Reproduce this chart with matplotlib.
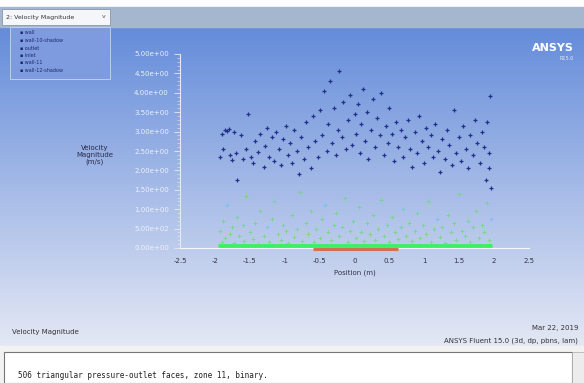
import numpy as np
import matplotlib.pyplot as plt
from matplotlib.patches import Rectangle

plt.rcParams['font.family'] = ['Liberation Sans Narrow', 'DejaVu Sans']

# blue points (upper cloud)
blue_x = [-1.92, -1.90, -1.88, -1.85, -1.82, -1.80, -1.78, -1.76, -1.72, -1.70, -1.68, -1.62,
          -1.60, -1.55, -1.52, -1.48, -1.45, -1.42, -1.38, -1.35, -1.30, -1.28, -1.25, -1.22,
          -1.18, -1.15, -1.12, -1.08, -1.05, -1.02, -0.98, -0.95, -0.92, -0.90, -0.86, -0.82,
          -0.80, -0.76, -0.72, -0.70, -0.66, -0.62, -0.60, -0.56, -0.52, -0.50, -0.46, -0.44,
          -0.40, -0.38, -0.35, -0.32, -0.30, -0.26, -0.24, -0.22, -0.18, -0.16, -0.12, -0.10,
          -0.06, -0.04, 0.00, 0.02, 0.05, 0.08, 0.10, 0.12, 0.15, 0.18, 0.20, 0.24, 0.26, 0.30,
          0.32, 0.36, 0.38, 0.42, 0.45, 0.48, 0.50, 0.54, 0.56, 0.60, 0.62, 0.66, 0.70, 0.72,
          0.76, 0.80, 0.82, 0.86, 0.90, 0.92, 0.96, 1.00, 1.02, 1.06, 1.10, 1.12, 1.16, 1.20,
          1.22, 1.26, 1.30, 1.32, 1.36, 1.40, 1.42, 1.46, 1.50, 1.52, 1.56, 1.60, 1.62, 1.66,
          1.70, 1.72, 1.76, 1.80, 1.82, 1.85, 1.88, 1.90, 1.92, 1.94, 1.95, 1.93]
blue_y = [2.35, 2.95, 2.55, 3.05, 3.02, 3.06, 2.40, 2.28, 3.00, 2.45, 1.75, 2.90,
          2.30, 2.55, 3.45, 2.35, 2.20, 2.75, 2.48, 2.95, 2.10, 2.62, 3.10, 2.35,
          2.85, 2.25, 3.00, 2.55, 2.15, 2.80, 3.15, 2.40, 2.70, 2.20, 3.05, 2.50,
          1.90, 2.85, 2.30, 3.25, 2.60, 2.05, 3.40, 2.75, 2.35, 3.55, 2.90, 4.05,
          2.50, 3.20, 4.30, 2.70, 3.60, 2.40, 3.05, 4.55, 2.85, 3.75, 2.55, 3.30,
          3.95, 2.65, 3.45, 2.95, 3.70, 2.45, 3.20, 4.10, 2.75, 3.50, 2.30, 3.05, 3.85, 2.60,
          3.35, 2.90, 4.00, 2.40, 3.15, 2.70, 3.60, 2.95, 2.25, 3.25, 2.60, 3.05, 2.35, 2.85,
          3.30, 2.55, 2.10, 3.00, 2.45, 3.40, 2.75, 2.20, 3.10, 2.60, 2.90, 2.35, 3.20, 2.50,
          1.95, 2.80, 2.30, 3.05, 2.65, 2.15, 3.55, 2.45, 2.85, 2.25, 3.15, 2.55, 2.05, 2.90,
          2.40, 3.30, 2.70, 2.20, 3.00, 2.60, 1.75, 3.25, 2.45, 3.92, 1.55, 2.05]

# green points (lower cloud)
green_x = [-1.92, -1.90, -1.88, -1.85, -1.82, -1.78, -1.75, -1.72, -1.68, -1.65, -1.60, -1.58,
           -1.55, -1.50, -1.46, -1.42, -1.38, -1.35, -1.30, -1.26, -1.22, -1.18, -1.15, -1.10,
           -1.06, -1.02, -0.98, -0.95, -0.90, -0.86, -0.82, -0.78, -0.75, -0.70, -0.66, -0.62,
           -0.58, -0.55, -0.50, -0.46, -0.42, -0.38, -0.34, -0.30, -0.26, -0.22, -0.18, -0.14,
           -0.10, -0.06, -0.02, 0.02, 0.06, 0.10, 0.14, 0.18, 0.22, 0.26, 0.30, 0.34, 0.38,
           0.42, 0.46, 0.50, 0.54, 0.58, 0.62, 0.66, 0.70, 0.74, 0.78, 0.82, 0.86, 0.90, 0.94,
           0.98, 1.02, 1.06, 1.10, 1.14, 1.18, 1.22, 1.26, 1.30, 1.34, 1.38, 1.42, 1.46, 1.50,
           1.54, 1.58, 1.62, 1.66, 1.70, 1.74, 1.78, 1.82, 1.86, 1.90, 1.93, 1.95]
green_y = [0.45, 0.15, 0.70, 0.25, 1.10, 0.35, 0.55, 0.12, 0.80, 0.30, 0.60, 0.18,
           1.35, 0.40, 0.22, 0.65, 0.10, 0.95, 0.30, 0.55, 0.15, 0.75, 1.20, 0.35,
           0.20, 0.60, 0.45, 0.12, 0.85, 0.28, 0.50, 1.45, 0.18, 0.65, 0.35, 0.95,
           0.15, 0.50, 0.25, 0.75, 1.10, 0.40, 0.20, 0.60, 0.90, 0.30, 0.55, 1.30,
           0.15, 0.45, 0.70, 0.25, 1.05, 0.40, 0.18, 0.65, 0.35, 0.85, 0.20, 0.50, 1.25,
           0.30, 0.60, 0.15, 0.80, 0.40, 0.22, 0.55, 1.00, 0.30, 0.65, 0.18, 0.45, 0.90, 0.25,
           0.60, 0.35, 1.20, 0.15, 0.50, 0.75, 0.28, 0.55, 0.12, 0.85, 0.40, 0.65, 0.20, 1.40,
           0.45, 0.30, 0.70, 0.15, 0.55, 0.95, 0.25, 0.60, 0.40, 1.15, 0.20, 0.75]

# dense wall band and outlet segment
band_x = [-1.95, 1.97]
band_y = [0.05, 0.05]
outlet_x = [-0.60, 0.62]
outlet_y = [-0.02, -0.02]

xticks = [-2.5, -2, -1.5, -1, -0.5, 0, 0.5, 1, 1.5, 2, 2.5]
xtick_labels = ['-2.5', '-2', '-1.5', '-1', '-0.5', '0', '0.5', '1', '1.5', '2', '2.5']
yticks = [0, 0.5, 1, 1.5, 2, 2.5, 3, 3.5, 4, 4.5, 5]
ytick_labels = ['0.00e+00', '5.00e+02', '1.00e+00', '1.50e+00', '2.00e+00', '2.50e+00',
                '3.00e+00', '3.50e+00', '4.00e+00', '4.50e+00', '5.00e+00']

W, H = 584, 383
fig = plt.figure(figsize=(W / 100, H / 100), dpi=100)

# background: window chrome + gradient viewport
bg = fig.add_axes([0, 0, 1, 1])
bg.set_xlim(0, W)
bg.set_ylim(H, 0)
bg.axis('off')
top_c = np.array([100, 140, 218]) / 255
bot_c = np.array([228, 232, 244]) / 255
t = np.linspace(0, 1, 256)[:, None]
grad = (top_c * (1 - t) + bot_c * t)[:, None, :] * np.ones((1, 2, 1))
bg.imshow(grad, extent=[0, W, 346, 27], aspect='auto', zorder=0)
bg.add_patch(Rectangle((0, 0), W, 7, color='white', zorder=1))
bg.add_patch(Rectangle((0, 7), W, 20, color='#a4b7cf', zorder=1))
bg.add_patch(Rectangle((2, 9), 108, 16, facecolor='#f4f6fa', edgecolor='#8899aa', lw=0.6, zorder=2))
bg.text(6, 17, '2: Velocity Magnitude', fontsize=4.5, va='center', color='#333333', zorder=3)
bg.text(104, 17, 'v', fontsize=4.5, va='center', ha='center', color='#555555', zorder=3)
bg.add_patch(Rectangle((0, 346), W, H - 346, color='#f2f2f2', zorder=1))
bg.add_patch(Rectangle((4, 352), W - 16, H - 352, facecolor='white', edgecolor='#777777', lw=0.8, zorder=2))
bg.add_patch(Rectangle((W - 12, 352), 12, H - 352, facecolor='#ececec', edgecolor='#aaaaaa', lw=0.5, zorder=2))
bg.text(18, 375, '506 triangular pressure-outlet faces, zone 11, binary.', fontsize=5.5,
        family='DejaVu Sans Mono', va='center', color='#222222', zorder=3)

# legend box (tiny, as in the Fluent viewport)
bg.add_patch(Rectangle((10, 27), 100, 52, facecolor='#7f9be0', edgecolor='#c8d4f0', lw=0.6, zorder=2))
leg_names = ['wall', 'wall-10-shadow', 'outlet', 'inlet', 'wall-11', 'wall-12-shadow']
for i, name in enumerate(leg_names):
    bg.text(20, 33 + i * 7.5, '\u25aa ' + name, fontsize=3.5, va='center', color='#1a2a6a', zorder=3)

bg.text(574, 48, 'ANSYS', fontsize=8, fontweight='bold', ha='right', va='center', color='white', zorder=3)
bg.text(574, 58, 'R15.0', fontsize=3.5, ha='right', va='center', color='#e8ecf8', zorder=3)
bg.text(12, 332, 'Velocity Magnitude', fontsize=5, va='center', color='#333333', zorder=3)
bg.text(578, 328, 'Mar 22, 2019', fontsize=5, ha='right', va='center', color='#333333', zorder=3)
bg.text(578, 341, 'ANSYS Fluent 15.0 (3d, dp, pbns, lam)', fontsize=5, ha='right', va='center',
        color='#333333', zorder=3)
bg.text(95, 155, 'Velocity\nMagnitude\n(m/s)', fontsize=5, ha='center', va='center',
        color='#2a2a4a', linespacing=1.1, zorder=3)

# plot axes
ax = fig.add_axes([180 / W, 1 - 248 / H, 349 / W, 194 / H])
ax.patch.set_alpha(0)
ax.set_xlim(-2.5, 2.5)
ax.set_ylim(0, 5)
for s in ['top', 'right']:
    ax.spines[s].set_visible(False)
ax.spines['left'].set_color('#e6eaf6')
ax.spines['bottom'].set_color('#f4f6fb')
ax.spines['left'].set_linewidth(0.8)
ax.spines['bottom'].set_linewidth(0.8)
ax.set_xticks(xticks)
ax.set_xticklabels(xtick_labels)
ax.set_yticks(yticks)
ax.set_yticklabels(ytick_labels)
ax.set_yticks(np.arange(0, 5.01, 0.1), minor=True)
ax.tick_params(axis='y', colors='#e6eaf6', labelcolor='#eef0fa', labelsize=5, length=4, width=0.6, pad=4)
ax.tick_params(axis='y', which='minor', colors='#e6eaf6', length=2, width=0.4)
ax.tick_params(axis='x', length=0, labelsize=5, labelcolor='#333344', pad=7)
ax.set_xlabel('Position (m)', fontsize=5, color='#333344', labelpad=4)

ax.plot(band_x, band_y, color='#3cf064', lw=3.5, solid_capstyle='butt', zorder=2, clip_on=False)
ax.plot(outlet_x, outlet_y, color='#d0705a', lw=2.2, solid_capstyle='butt', zorder=3, clip_on=False)
ax.scatter(green_x, green_y, s=5, color='#66dd6e', marker='+', linewidths=0.7, alpha=0.75, zorder=2)
ax.scatter(blue_x, blue_y, s=5, color='#22308c', marker='+', linewidths=0.9, zorder=3)

fig.savefig('out.png', dpi=100)
